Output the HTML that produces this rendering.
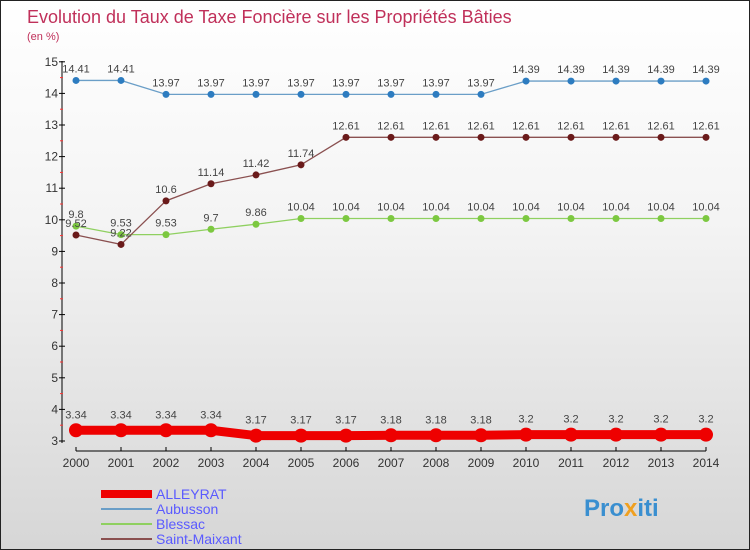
<!DOCTYPE html>
<html><head><meta charset="utf-8"><style>
body{margin:0}
#c{width:748px;height:548px;border:1px solid #222;background:linear-gradient(#fff 0%,#f4f4f4 40%,#d6d6d6 100%);position:relative;overflow:hidden;font-family:"Liberation Sans",sans-serif}
</style></head><body>
<div id="c">
<svg id="s" width="748" height="548" xmlns="http://www.w3.org/2000/svg">
<text x="26" y="22" font-size="18" fill="#c0305a">Evolution du Taux de Taxe Foncière sur les Propriétés Bâties</text>
<text x="26" y="39" font-size="11" fill="#c0305a">(en %)</text>
<g id="axes"></g><g id="series"></g>
<g>
<rect x="100" y="489" width="51" height="8" fill="#e00"/>
<text x="155" y="498" font-size="14" fill="#5a5aff">ALLEYRAT</text>
<line x1="100" y1="508" x2="151" y2="508" stroke="#6a9ec7" stroke-width="2"/>
<text x="155" y="513" font-size="14" fill="#5a5aff">Aubusson</text>
<line x1="100" y1="523" x2="151" y2="523" stroke="#8fd060" stroke-width="2"/>
<text x="155" y="528" font-size="14" fill="#5a5aff">Blessac</text>
<line x1="100" y1="538" x2="151" y2="538" stroke="#8a5050" stroke-width="2"/>
<text x="155" y="543" font-size="14" fill="#5a5aff">Saint-Maixant</text>
</g>
<text x="583" y="515" font-size="24" font-weight="bold" fill="#3a8fd0">Pro<tspan fill="#f0a020">x</tspan>iti</text>
</svg></div>
<script>
const years=[2000,2001,2002,2003,2004,2005,2006,2007,2008,2009,2010,2011,2012,2013,2014];
const alleyrat=[3.34,3.34,3.34,3.34,3.17,3.17,3.17,3.18,3.18,3.18,3.2,3.2,3.2,3.2,3.2];
const aubusson=[14.41,14.41,13.97,13.97,13.97,13.97,13.97,13.97,13.97,13.97,14.39,14.39,14.39,14.39,14.39];
const blessac=[9.8,9.53,9.53,9.7,9.86,10.04,10.04,10.04,10.04,10.04,10.04,10.04,10.04,10.04,10.04];
const saintMaixant=[9.52,9.22,10.6,11.14,11.42,11.74,12.61,12.61,12.61,12.61,12.61,12.61,12.61,12.61,12.61];
const yTicks=[3,4,5,6,7,8,9,10,11,12,13,14,15];
const NS="http://www.w3.org/2000/svg";
const xs=i=>75+i*45;
const ys=v=>440-(v-3)*31.6;
function mk(tag,attrs,parent){const e=document.createElementNS(NS,tag);for(const k in attrs)e.setAttribute(k,attrs[k]);parent.appendChild(e);return e;}
const ax=document.getElementById('axes'),sg=document.getElementById('series');
let e=mk('line',{x1:61,y1:60,x2:61,y2:442,stroke:'#000'},ax);


e=mk('line',{x1:75,y1:450,x2:705,y2:450,stroke:'#000'},ax);


yTicks.forEach(t=>{
 mk('line',{x1:58,y1:ys(t),x2:64,y2:ys(t),stroke:'#000'},ax);
 if(t<15)mk('line',{x1:59,y1:ys(t+0.5),x2:62,y2:ys(t+0.5),stroke:'#f33'},ax);
 const tx=mk('text',{x:57,y:ys(t)+4,'font-size':12,fill:'#333','text-anchor':'end'},ax);tx.textContent=t;
 
 
});
years.forEach((y,i)=>{
 mk('line',{x1:xs(i),y1:446,x2:xs(i),y2:450,stroke:'#000'},ax);
 const tx=mk('text',{x:xs(i),y:466,'font-size':12,fill:'#333','text-anchor':'middle'},ax);tx.textContent=y;
 
 
});
function fmt(v){return String(v);}
function series(arr,name,color,dot,lw,r,lblOff){
 const g=mk('g',{},sg);
 
 
 mk('polyline',{points:arr.map((v,i)=>xs(i)+','+ys(v)).join(' '),fill:'none',stroke:color,'stroke-width':lw},g);
 arr.forEach((v,i)=>{
  const c=mk('circle',{cx:xs(i),cy:ys(v),r:r,fill:dot},g);
  
  
  const t=mk('text',{x:xs(i),y:ys(v)-lblOff,'font-size':11,fill:'#444','text-anchor':'middle'},g);t.textContent=fmt(v);
  
  
 });
}
series(blessac,'blessac','#8fd060','#7cc840',1.3,3.5,8);
series(saintMaixant,'saint-maixant','#8a5050','#6a1a1a',1.3,3.5,8);
series(aubusson,'aubusson','#6a9ec7','#2d7cc0',1.3,3.5,8);
series(alleyrat,'alleyrat','#e00','#e00',9,7,12);
</script>
</body></html>
